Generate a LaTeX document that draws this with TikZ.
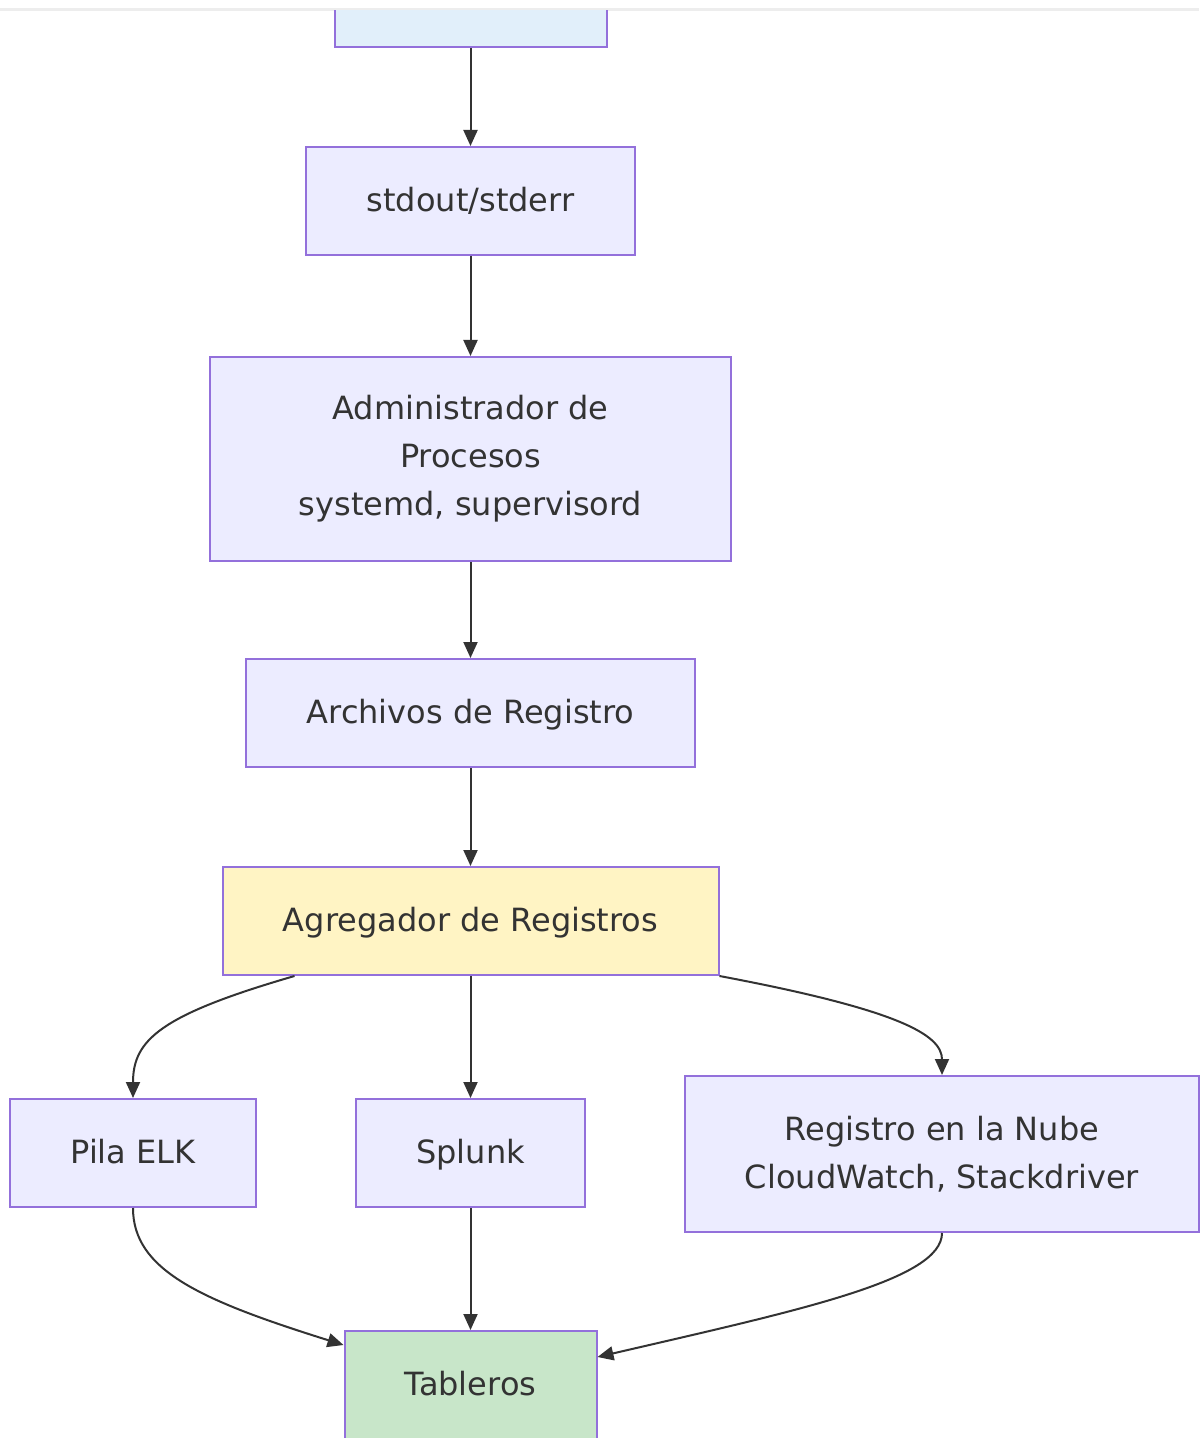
\documentclass[tikz,border=0pt]{standalone}
\usepackage{fontspec}
\setmainfont{DejaVu Sans}
\usetikzlibrary{arrows.meta}

\definecolor{ink}{HTML}{333333}
\definecolor{boxline}{HTML}{9370DB}
\definecolor{boxfill}{HTML}{ECECFF}
\definecolor{srcfill}{HTML}{E1EFFA}
\definecolor{aggfill}{HTML}{FFF4C4}
\definecolor{tabfill}{HTML}{C8E6C9}

\begin{document}
\begin{tikzpicture}[x=0.5pt,y=-0.5pt, every node/.style={font=\fontsize{16}{24}\selectfont, text=ink, align=center},
  box/.style={draw=boxline, fill=boxfill, line width=1pt, inner sep=0pt},
  oneline/.style={text height=12pt, text depth=1.5pt},
  flow/.style={draw=ink, line width=1pt, -{Triangle[length=8pt,width=7pt]}}]
\useasboundingbox (0,0) rectangle (1199,1438);
\draw[black!7, line width=1.5pt] (0,10) -- (1199,10);
\begin{scope}
\clip (0,11) rectangle (1199,1438);
\node[box, fill=srcfill, minimum width=136pt, minimum height=54pt] (src) at (470.5,-7) {};
\end{scope}
\node[box, oneline, minimum width=164.5pt, minimum height=54pt] (out) at (470.5,201) {stdout/stderr};
\node[box, minimum width=260.5pt, minimum height=102pt] (adm) at (470.5,459) {Administrador de\\Procesos\\systemd, supervisord};
\node[box, oneline, minimum width=224.5pt, minimum height=54pt] (files) at (470.5,713) {Archivos de Registro};
\node[box, oneline, fill=aggfill, minimum width=248pt, minimum height=54pt] (agg) at (470.5,921) {Agregador de Registros};
\node[box, oneline, minimum width=123pt, minimum height=54pt] (elk) at (133,1153) {Pila ELK};
\node[box, oneline, minimum width=114.5pt, minimum height=54pt] (splunk) at (470.5,1153) {Splunk};
\node[box, minimum width=257pt, minimum height=78pt] (cloud) at (942,1154) {Registro en la Nube\\CloudWatch, Stackdriver};
\node[box, oneline, fill=tabfill, minimum width=126pt, minimum height=54pt] (tab) at (470.5,1385) {Tableros};
\draw[flow] (src) -- (out);
\draw[flow] (out) -- (adm);
\draw[flow] (adm) -- (files);
\draw[flow] (files) -- (agg);
\draw[flow] (agg) -- (splunk);
\draw[flow] ([xshift=-88pt]agg.south) .. controls (160,1015) and (133,1040) .. (elk.north);
\draw[flow] (agg.south east) .. controls (900,1010) and (942,1035) .. (cloud.north);
\draw[flow] (splunk) -- (tab);
\draw[flow] (elk.south) .. controls (133,1270) and (200,1300) .. ([yshift=20pt]tab.west);
\draw[flow] (cloud.south) .. controls (942,1280) and (800,1310) .. ([yshift=14pt]tab.east);
\end{tikzpicture}
\end{document}
